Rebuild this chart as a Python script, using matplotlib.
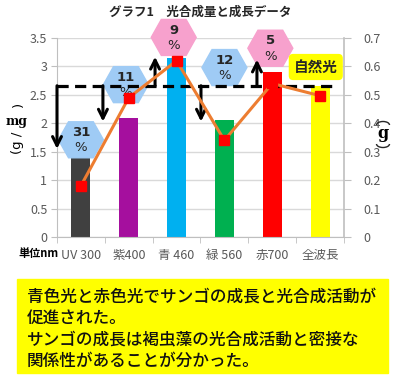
import numpy as np
import matplotlib
matplotlib.use("Agg")
import matplotlib.pyplot as plt
from matplotlib.patches import Polygon, Rectangle, Arc
from matplotlib.transforms import IdentityTransform
from matplotlib.ticker import FuncFormatter

plt.rcParams['font.family'] = ['Noto Sans CJK JP', 'DejaVu Sans']

# data
categories = ['UV 300', '紫400', '青 460', '緑 560', '赤700', '全波長']
photosynthesis = [1.4, 2.1, 3.15, 2.05, 2.9, 2.65]      # left axis, bars
growth = [0.18, 0.49, 0.62, 0.34, 0.54, 0.497]          # right axis, line
bar_colors = ['#404040', '#A50F9E', '#00B0F0', '#00B050', '#FF0000', '#FFFF00']
natural_level = 2.66
arrow_x = [-0.5, 0.46, 1.55, 2.51, 3.68]
arrow_tip = [1.55, 2.03, 3.17, 2.03, 3.12]
pct_labels = ['31', '11', '9', '12', '5']
pct_up = [False, False, True, False, True]
hex_pos = [(0.0, 1.71), (0.94, 2.68), (1.94, 3.51), (3.0, 2.98), (3.96, 3.32)]
summary = ['青色光と赤色光でサンゴの成長と光合成活動が',
           '促進された。',
           'サンゴの成長は褐虫藻の光合成活動と密接な',
           '関係性があることが分かった。']

W, H = 400, 386
fig = plt.figure(figsize=(4.0, 3.86), dpi=100)
ax = fig.add_axes([57 / W, 1 - 237 / H, 287 / W, 199 / H])
ax2 = ax.twinx()

x = np.arange(len(categories))
ax.bar(x, photosynthesis, width=0.4, color=bar_colors, zorder=2)
ax.set_xlim(-0.5, 5.5)
ax.set_ylim(0, 3.5)
ax.set_yticks(np.arange(0, 3.51, 0.5))
ax.yaxis.set_major_formatter(FuncFormatter(lambda v, p: f'{v:g}'))
ax.grid(axis='y', color='#D9D9D9', lw=1, zorder=0)
ax.set_axisbelow(True)
ax.set_xticks(x)
ax.set_xticklabels(categories)
ax.set_xticks(np.arange(-0.5, 5.6, 1), minor=True)
ax.tick_params(axis='x', which='major', length=0, pad=8.5, labelsize=9, labelcolor='#595959')
ax.tick_params(axis='x', which='minor', length=4, color='#BFBFBF')
ax.tick_params(axis='y', length=4, color='#BFBFBF', labelsize=9, labelcolor='#595959', pad=3)
for s in ['left', 'bottom']:
    ax.spines[s].set_color('#BFBFBF')
ax.spines['top'].set_visible(False)
ax.spines['right'].set_visible(False)

ax2.plot(x, growth, color='#ED7D31', lw=2.2, marker='s', markersize=7.5,
         markerfacecolor='#FF0000', markeredgecolor='#FF0000', zorder=3)
ax2.set_ylim(0, 0.7)
ax2.set_yticks(np.arange(0, 0.71, 0.1))
ax2.yaxis.set_major_formatter(FuncFormatter(lambda v, p: f'{v:g}'))
ax2.tick_params(axis='y', length=5, color='#BFBFBF', labelsize=9, labelcolor='#595959', pad=9)
ax2.spines['right'].set_color('#BFBFBF')
ax2.spines['right'].set_linewidth(1.2)
for s in ['left', 'bottom', 'top']:
    ax2.spines[s].set_visible(False)

# dashed natural-light level and arrows
ax.plot([-0.5, 5.32], [natural_level] * 2, color='black', lw=2.3,
        ls=(0, (3.5, 2)), zorder=5, clip_on=False)
for ax_x, tip in zip(arrow_x, arrow_tip):
    ax.annotate('', xy=(ax_x, tip), xytext=(ax_x, natural_level),
                arrowprops=dict(arrowstyle='->', lw=2.2, color='black',
                                mutation_scale=16, shrinkA=0, shrinkB=0),
                zorder=5, annotation_clip=False)

# hexagons with percentages
hw, hh = 22.5 / 47.83, 18 / 56.86
for (cx, cy), lab, up in zip(hex_pos, pct_labels, pct_up):
    verts = [(cx - hw, cy), (cx - 0.55 * hw, cy + hh), (cx + 0.55 * hw, cy + hh),
             (cx + hw, cy), (cx + 0.55 * hw, cy - hh), (cx - 0.55 * hw, cy - hh)]
    col = '#F7A1CD' if up else '#9FCBF5'
    ax.add_patch(Polygon(verts, closed=True, color=col, zorder=4, clip_on=False))
    ax.text(cx, cy + 0.13, lab, ha='center', va='center', fontsize=9.5,
            weight='bold', color='#262626', zorder=4.5, family='DejaVu Sans')
    ax.text(cx, cy - 0.14, '%', ha='center', va='center', fontsize=9.5,
            color='#262626', zorder=4.5, family='DejaVu Sans')

ax2.text(4.91, 0.598, '自然光', ha='center', va='center', fontsize=10.5,
         weight='bold', color='#262626', zorder=6,
         bbox=dict(boxstyle='round,pad=0.35,rounding_size=0.3', fc='#FFFF00', ec='none'))

# axis labels
fig.text(18 / W, 1 - 143 / H, '(g /', rotation=90, ha='center', va='center',
         fontsize=9.5, family='DejaVu Sans')
fig.text(17 / W, 1 - 121 / H, 'mg', ha='center', va='center', fontsize=9,
         weight='bold', family='DejaVu Serif')
fig.text(18 / W, 1 - 104 / H, ')', rotation=90, ha='center', va='center',
         fontsize=9.5, family='DejaVu Sans')
# right label: vertical "(g)" with arc-shaped parentheses
fig.text(383 / W, 1 - 134 / H, 'g', ha='center', va='center', fontsize=11.5,
         weight='bold', family='DejaVu Serif')
fig.add_artist(Arc((383, H - 125), 13, 7, theta1=0, theta2=180, lw=1,
                   color='#262626', transform=IdentityTransform()))
fig.add_artist(Arc((383, H - 144), 13, 7, theta1=180, theta2=360, lw=1,
                   color='#262626', transform=IdentityTransform()))

fig.text(0.5, 1 - 12 / H, 'グラフ1　光合成量と成長データ', ha='center', va='center',
         fontsize=9, weight='bold', color='#262626')
fig.text(18 / W, 1 - 254 / H, '単位nm', ha='left', va='center', fontsize=8, weight='bold')

# summary box
fig.patches.append(Rectangle((17 / W, 1 - 373 / H), 371 / W, 94 / H,
                             transform=fig.transFigure, color='#FFFF00', zorder=0))
for i, line in enumerate(summary):
    fig.text(27 / W, 1 - (297 + 21.3 * i) / H, line, ha='left', va='center',
             fontsize=12, weight='medium', color='#111111')

fig.savefig('out.png', dpi=100)
